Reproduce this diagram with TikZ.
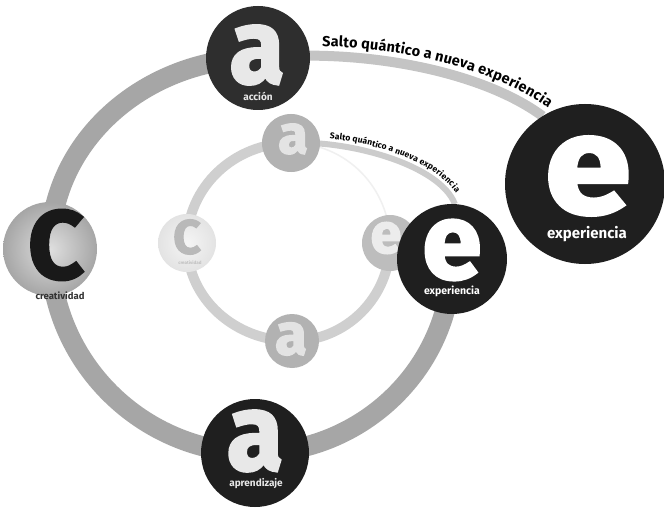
\documentclass[tikz,border=0pt]{standalone}
\usepackage{fontspec}
\setmainfont{Fira Sans}
\newfontfamily\heavy[FakeBold=2.5]{Fira Sans}
\usetikzlibrary{decorations.text}
\pgfdeclarelayer{bg}
\pgfdeclarelayer{paper}
\pgfsetlayers{paper,bg,main}
\definecolor{ringout}{gray}{0.65}
\definecolor{leapout}{gray}{0.77}
\definecolor{ringin}{gray}{0.81}
\definecolor{ringfaint}{gray}{0.94}
\definecolor{leapin}{gray}{0.80}
\definecolor{darkA}{gray}{0.18}
\definecolor{darkB}{gray}{0.12}
\definecolor{letterW}{gray}{0.91}
\definecolor{inA}{gray}{0.70}
\definecolor{inE}{gray}{0.74}
\begin{document}
\begin{tikzpicture}[x=1pt,y=1pt,
  every node/.style={inner sep=0pt, outer sep=0pt},
  disc/.style={circle, draw=none, fill=#1},
  letter/.style={font=\heavy\bfseries\fontsize{#1}{#1}\selectfont},
  lbl/.style={font=\bfseries\fontsize{#1}{#1}\selectfont},
  outring/.style={draw=ringout, line width=20pt},
  inring/.style={draw=ringin, line width=10pt},
  faintring/.style={draw=ringfaint, line width=1.5pt},
  leapO/.style={draw=leapout, line width=10pt},
  leapI/.style={draw=leapin, line width=6pt}]
\begin{pgfonlayer}{paper}
\fill[white] (0,0) rectangle (664,-508);
\end{pgfonlayer}
\useasboundingbox (0,0) rectangle (664,-508);

% ---------- inner ring nodes ----------
\node[disc=inA, minimum size=58pt] (itopa) at (291,-143) {};
\node[letter=54, text=gray!22] (itopaL) at (293,-139) {a};
\node[circle, minimum size=58pt, shading=radial, inner color=gray!8, outer color=gray!22] (ic) at (187,-243) {};
\node[letter=48, text=gray!55] (icL) at (187,-237) {C};
\node[lbl=4.5, text=gray!50] (icT) at (190,-263) {creatividad};
\node[disc=inA, minimum size=54pt] (iboa) at (292,-341) {};
\node[letter=58, text=gray!22] (iboaL) at (291,-339) {a};
\node[disc=inE, minimum size=56pt] (ie) at (390,-243) {};
\node[letter=56, text=gray!15] (ieL) at (386,-238) {e};

% ---------- outer ring nodes ----------
\node[disc=darkA, minimum size=104pt] (topa) at (258,-58) {};
\node[letter=105, text=letterW] (topaL) at (257,-55) {\scalebox{0.95}[1]{a}};
\node[lbl=10, text=letterW] (topaT) at (258,-96) {acción};

\node[circle, minimum size=94pt, shading=radial, inner color=gray!25, outer color=gray!70] (c) at (50,-249) {};
\node[letter=97, text=black!90] (cL) at (56,-245) {C};
\node[lbl=9.5, text=black!80] (cT) at (60,-296) {creatividad};

\node[disc=darkB, minimum size=108pt] (boa) at (255,-453) {};
\node[letter=108, text=letterW] (boaL) at (255,-441) {\scalebox{0.95}[1]{a}};
\node[lbl=10, text=letterW] (boaT) at (256,-484) {aprendizaje};

\node[disc=darkB, minimum size=110pt] (blacke) at (452,-259) {};
\node[letter=107, text=white] (blackeL) at (452,-250) {e};
\node[lbl=10.5, text=white] (blackeT) at (452,-291) {experiencia};

\node[disc=darkB, minimum size=160pt] (bige) at (585,-184) {};
\node[letter=139, text=white] (bigeL) at (588,-176) {\scalebox{1.12}[1]{e}};
\node[lbl=15, text=white] (bigeT) at (587,-234) {experiencia};

% ---------- connectors ----------
\begin{pgfonlayer}{bg}
  \draw[outring] (topa.center) to[out=180,in=90] (c.center)
                 to[out=-90,in=180] (boa.center)
                 to[out=0,in=-90] (blacke.center);
  \draw[inring] (itopa.center) to[out=180,in=90] (ic.center)
                to[out=-90,in=180] (iboa.center)
                to[out=0,in=-90] (ie.center);
  \draw[faintring] (ie.center) to[out=90,in=0] (itopa.center);
  \draw[leapO] (topa.center) .. controls (360,-48) and (480,-70) .. (bige.122);
  \draw[leapI] (itopa.center) .. controls (350,-140) and (440,-165) .. (blacke.87);
\end{pgfonlayer}

% ---------- labels along the leaps ----------
\path[decorate, decoration={text along path, raise=9.5pt, text color=black,
   text align={left indent=64pt},
   text={|\bfseries\fontsize{14.5}{14.5}\selectfont|Salto quántico a nueva experiencia}}]
   (topa.center) .. controls (360,-48) and (480,-70) .. (bige.122) -- ++(-36:40);
\path[decorate, decoration={text along path, raise=6pt, text color=black,
   text align={left indent=38pt},
   text={|\bfseries\fontsize{8.5}{8.5}\selectfont|Salto quántico a nueva experiencia}}]
   (itopa.center) .. controls (350,-140) and (440,-165) .. (blacke.87) -- ++(-69:30);
\end{tikzpicture}
\end{document}
